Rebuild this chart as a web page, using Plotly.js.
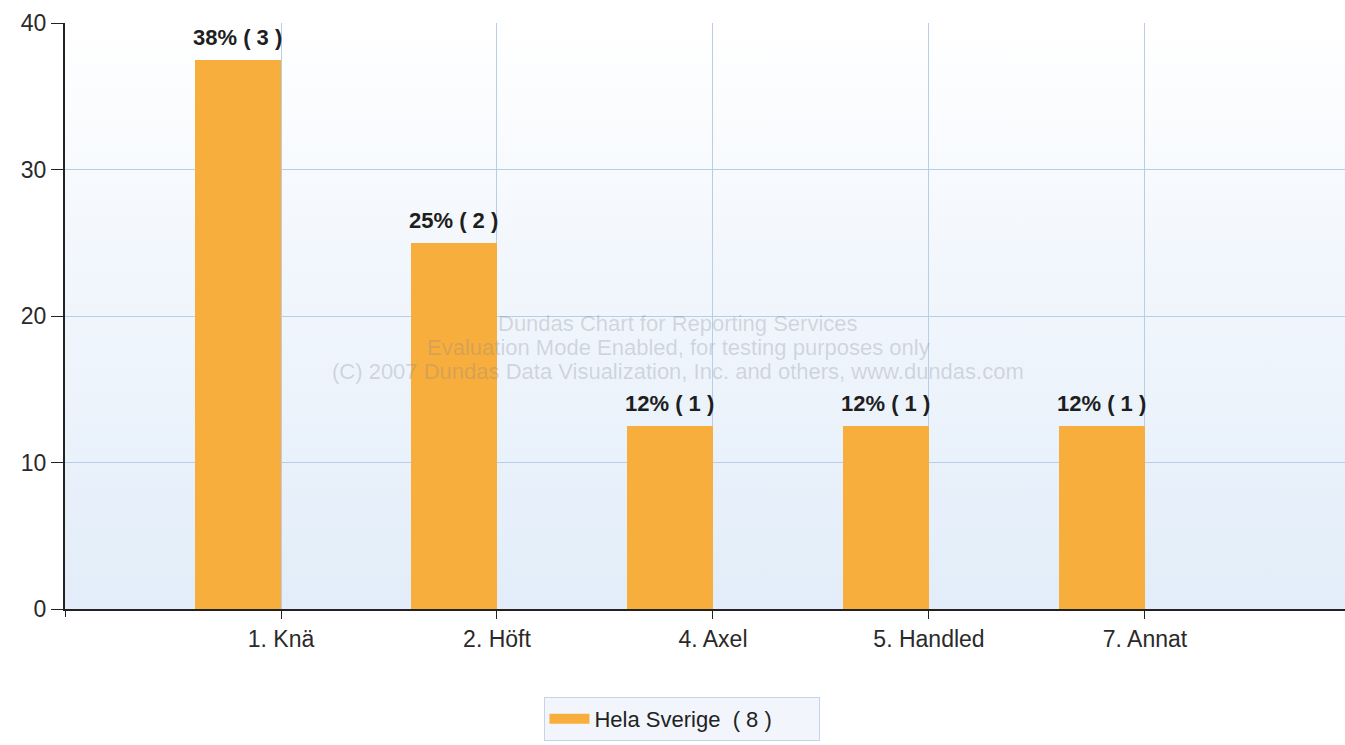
<!DOCTYPE html>
<html>
<head>
<meta charset="utf-8">
<script src="https://cdn.plot.ly/plotly-3.0.1.min.js"></script>
<style>
  html, body { margin:0; padding:0; background:#ffffff; }
  #wrap { position:relative; width:1345px; height:745px; }
  #bg { position:absolute; left:65px; top:23px; width:1280px; height:586px;
        background:linear-gradient(to bottom, #ffffff 0%, #f4f8fd 35%, #e2edf9 100%); }
  #chart { position:absolute; left:0; top:0; width:1345px; height:745px; }
</style>
</head>
<body>
<div id="wrap"><div id="bg"></div><div id="chart"></div></div>
<script>
// ---- data ----
const categories = ['1. Knä', '2. Höft', '4. Axel', '5. Handled', '7. Annat'];
const percentValues = [37.5, 25, 12.5, 12.5, 12.5];
const pctLabels = ['38%', '25%', '12%', '12%', '12%'];
const counts = [3, 2, 1, 1, 1];
const seriesName = 'Hela Sverige  ( 8 )';
const yTicks = [0, 10, 20, 30, 40];

// ---- styling ----
const barColor = '#F8AE3D';
const barWidth = 0.4;
const gridColor = '#b9cde6';
const font = 'Liberation Sans, Arial, sans-serif';

const barTrace = {
  type: 'bar',
  x: categories,
  y: percentValues,
  name: seriesName,
  legendgroup: 'main',
  showlegend: false,
  marker: { color: barColor, line: { width: 0 } },
  width: barWidth,
  offset: -barWidth,
  hoverinfo: 'x+y'
};

// legend entry for the same series, drawn as a wide swatch like the original
const legendTrace = {
  type: 'scatter',
  x: [null], y: [null],
  mode: 'lines',
  name: seriesName,
  legendgroup: 'main',
  showlegend: true,
  line: { color: barColor, width: 14 },
  hoverinfo: 'skip'
};

const labelAnnotations = categories.map((c, i) => ({
  x: i - barWidth / 2,
  y: percentValues[i],
  xref: 'x', yref: 'y',
  text: pctLabels[i] + ' ( ' + counts[i] + ' )',
  showarrow: false,
  yanchor: 'bottom',
  yshift: 8,
  font: { family: font, size: 22, color: '#1e1e1e', weight: 'bold' }
}));

const watermarkLines = [
  'Dundas Chart for Reporting Services',
  'Evaluation Mode Enabled, for testing purposes only',
  '(C) 2007 Dundas Data Visualization, Inc. and others, www.dundas.com'
];
const watermarkAnn = watermarkLines.map((t, i) => ({
  x: 0.479, y: 0.488 - i * 0.041,
  xref: 'paper', yref: 'paper',
  text: t, showarrow: false,
  xanchor: 'center', yanchor: 'middle',
  font: { family: font, size: 22, color: 'rgba(125,130,145,0.28)' }
}));

const layout = {
  width: 1345, height: 745,
  margin: { l: 65, r: 0, t: 23, b: 136 },
  paper_bgcolor: 'rgba(0,0,0,0)',
  plot_bgcolor: 'rgba(0,0,0,0)',
  font: { family: font, color: '#333333' },
  bargap: 0,
  xaxis: {
    type: 'category',
    range: [-1, 4.926],
    showgrid: true, gridcolor: gridColor, gridwidth: 1,
    showline: true, linecolor: '#222222', linewidth: 2,
    ticks: 'outside', ticklen: 8, tickcolor: '#222222', tickwidth: 1,
    tickfont: { family: font, size: 23, color: '#2a2a2a' },
    zeroline: false, fixedrange: true
  },
  yaxis: {
    range: [0, 40],
    tickvals: yTicks,
    showgrid: true, gridcolor: gridColor, gridwidth: 1,
    showline: true, linecolor: '#222222', linewidth: 2,
    ticks: 'outside', ticklen: 12, tickcolor: '#222222', tickwidth: 1,
    tickfont: { family: font, size: 23, color: '#2a2a2a' },
    zeroline: false, fixedrange: true
  },
  showlegend: true,
  legend: {
    orientation: 'h',
    xref: 'container', yref: 'container',
    x: 0.5074, xanchor: 'center',
    y: 0.0644, yanchor: 'top',
    bgcolor: '#f2f6fc', bordercolor: '#c5d4e6', borderwidth: 1,
    font: { family: font, size: 22, color: '#222222' },
    itemwidth: 40,
    entrywidth: 220
  },
  shapes: [
    { type: 'line', xref: 'x', yref: 'paper', x0: -1, x1: -1, y0: 0, y1: -0.0137,
      line: { color: '#222222', width: 2 } }
  ],
  annotations: labelAnnotations.concat(watermarkAnn)
};

Plotly.newPlot('chart', [barTrace, legendTrace], layout, { displayModeBar: false, staticPlot: true });
</script>
</body>
</html>
